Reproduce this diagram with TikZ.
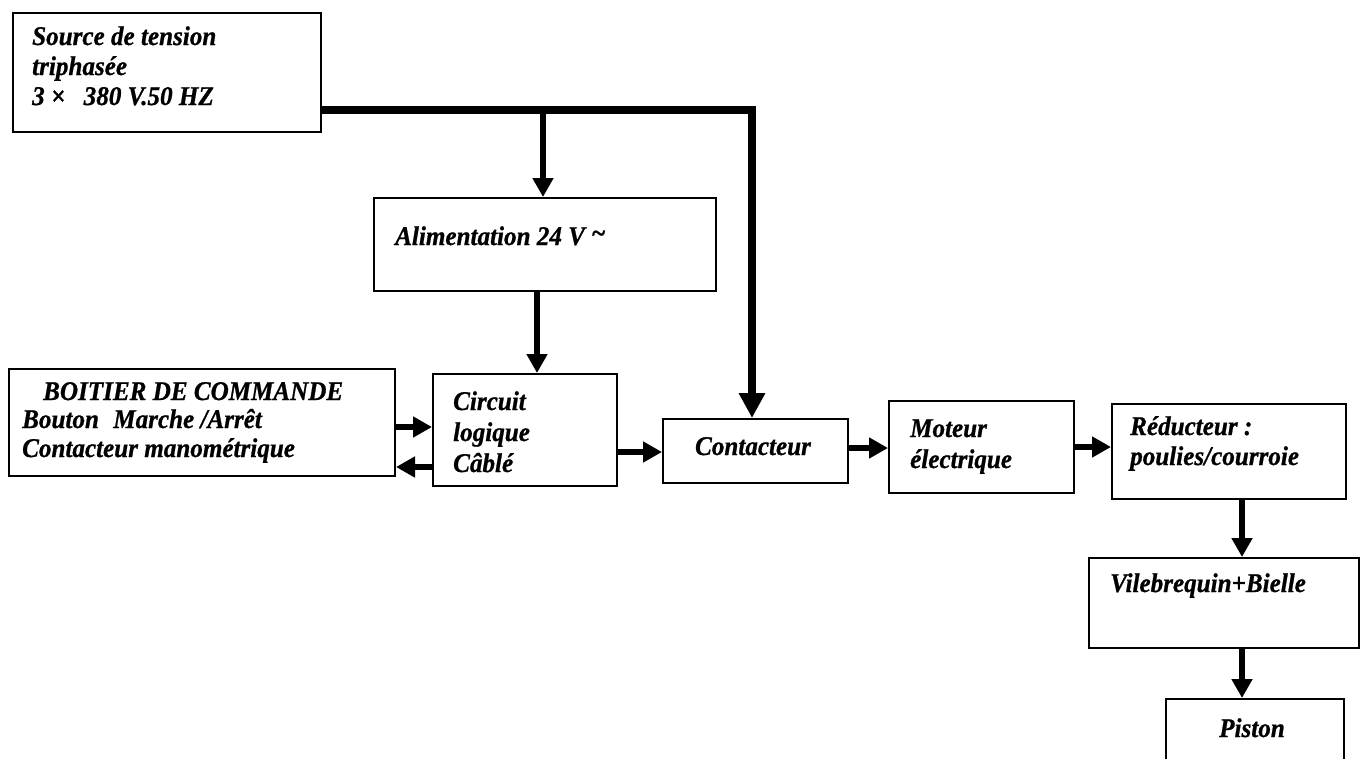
\documentclass[tikz,border=0pt]{standalone}
\usepackage{fontspec}
\setmainfont{Liberation Serif}[FakeStretch=0.93, FakeBold=0.8]
\usetikzlibrary{arrows.meta}
\begin{document}
\begin{tikzpicture}[x=1pt,y=-1pt,
  box/.style={draw, line width=2pt, inner sep=0pt, anchor=north west},
  lbl/.style={anchor=base west, inner sep=0pt, font=\fontsize{27}{30}\selectfont\bfseries\itshape},
  clbl/.style={lbl, anchor=base},
  arr/.style={line width=5.5pt, -{Triangle[length=19pt,width=20pt]}},
  mainline/.style={line width=7.5pt, -{Triangle[length=25pt,width=25pt]}},
]
\fill[white] (0,0) rectangle (1362,758);
\useasboundingbox (0,0) rectangle (1362,758);

% boxes
\node[box, minimum width=308pt, minimum height=119pt] (src)  at (12,12)   {};
\node[box, minimum width=342pt, minimum height=93pt]  (alim) at (373,197) {};
\node[box, minimum width=386pt, minimum height=107pt] (boit) at (8,368)   {};
\node[box, minimum width=184pt, minimum height=112pt] (circ) at (432,373) {};
\node[box, minimum width=185pt, minimum height=64pt]  (cont) at (662,418) {};
\node[box, minimum width=185pt, minimum height=92pt]  (mot)  at (888,400) {};
\node[box, minimum width=234pt, minimum height=95pt]  (red)  at (1111,403) {};
\node[box, minimum width=270pt, minimum height=90pt]  (vil)  at (1088,557) {};
\node[box, minimum width=178pt, minimum height=70pt]  (pis)  at (1165,698) {};

% texts
\node[lbl] (t1a) at (32,45)  {Source de tension};
\node[lbl] (t1b) at (32,75)  {triphasée};
\node[lbl] (t1c) at (32,105) {3 ×\hspace{0.45em} 380 V.50 HZ};
\node[lbl] (t2)  at (395,245) {Alimentation 24 V \raisebox{3pt}{\textasciitilde}};
\node[lbl] (t3a) at (43,400) {BOITIER DE COMMANDE};
\node[lbl] (t3b) at (22,428) {Bouton\hspace{0.3em} Marche /Arrêt};
\node[lbl] (t3c) at (22,457) {Contacteur manométrique};
\node[lbl] (t4a) at (453,410) {Circuit};
\node[lbl] (t4b) at (453,441) {logique};
\node[lbl] (t4c) at (453,472) {Câblé};
\node[clbl] (t5) at (753,455) {Contacteur};
\node[lbl] (t6a) at (910,437) {Moteur};
\node[lbl] (t6b) at (910,468) {électrique};
\node[lbl] (t7a) at (1130,435) {Réducteur :};
\node[lbl] (t7b) at (1130,465) {poulies/courroie};
\node[lbl] (t8)  at (1110,592) {Vilebrequin+Bielle};
\node[clbl] (t9) at (1252,737) {Piston};

% helper coordinates
\coordinate (h)  at (752,110);
\coordinate (b)  at (543,110);
\coordinate (va) at (537,0);
\coordinate (y427) at (0,427);
\coordinate (y467) at (0,467);
\coordinate (y452) at (0,452);
\coordinate (y448) at (0,448);
\coordinate (y447) at (0,447);
\coordinate (xr) at (1242,0);

% connectors
\draw[mainline] (src.east |- h) -| (cont.north -| h);
\draw[arr] (b) -- (alim.north -| b);
\draw[arr] (alim.south -| va) -- (circ.north -| va);
\draw[arr] (boit.east |- y427) -- (circ.west |- y427);
\draw[arr] (circ.west |- y467) -- (boit.east |- y467);
\draw[arr] (circ.east |- y452) -- (cont.west |- y452);
\draw[arr] (cont.east |- y448) -- (mot.west |- y448);
\draw[arr] (mot.east |- y447) -- (red.west |- y447);
\draw[arr] (red.south -| xr) -- (vil.north -| xr);
\draw[arr] (vil.south -| xr) -- (pis.north -| xr);
\end{tikzpicture}
\end{document}
